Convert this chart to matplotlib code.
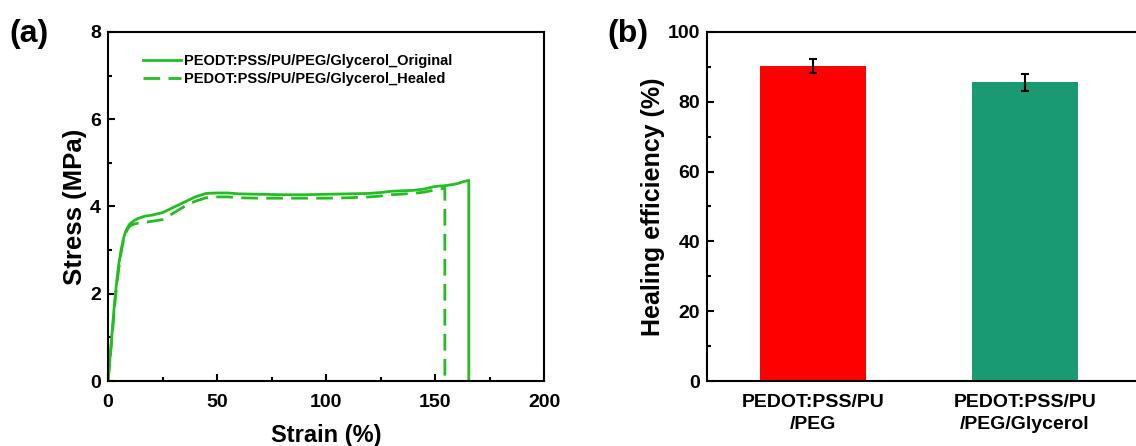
import matplotlib.pyplot as plt
import numpy as np

plt.rcParams['font.family'] = ['Liberation Sans', 'DejaVu Sans']
plt.rcParams['font.weight'] = 'bold'

# stress-strain curves
strain_orig = [0, 1, 2, 3, 4, 5, 6, 7, 8, 9, 10, 12, 14, 17, 20, 25, 30, 35, 40, 45, 50, 55, 60, 70, 80, 90, 100, 110, 120, 125, 130, 140, 145, 150, 155, 160, 163, 165.5, 165.5]
stress_orig = [0, 0.6, 1.2, 1.8, 2.3, 2.7, 3.0, 3.25, 3.42, 3.52, 3.6, 3.68, 3.73, 3.78, 3.8, 3.86, 3.98, 4.1, 4.22, 4.3, 4.31, 4.31, 4.29, 4.28, 4.27, 4.27, 4.28, 4.29, 4.3, 4.32, 4.35, 4.37, 4.4, 4.46, 4.48, 4.52, 4.57, 4.6, 0]
strain_heal = [0, 1, 2, 3, 4, 5, 6, 7, 8, 9, 10, 12, 14, 17, 20, 25, 30, 35, 40, 45, 50, 55, 60, 70, 80, 90, 100, 110, 120, 125, 130, 140, 145, 150, 154.5, 154.5]
stress_heal = [0, 0.55, 1.1, 1.7, 2.2, 2.6, 2.95, 3.2, 3.38, 3.48, 3.55, 3.6, 3.62, 3.64, 3.66, 3.7, 3.85, 4.0, 4.12, 4.2, 4.22, 4.22, 4.2, 4.19, 4.19, 4.19, 4.19, 4.2, 4.22, 4.24, 4.27, 4.3, 4.33, 4.38, 4.42, 0]

# healing efficiency
samples = ['PEDOT:PSS/PU\n/PEG', 'PEDOT:PSS/PU\n/PEG/Glycerol']
efficiency = [90.3, 85.6]
eff_err = [2.0, 2.5]
bar_colors = ['#FF0000', '#1A9A72']

green = '#22BE22'

fig = plt.figure(figsize=(11.36, 4.46), dpi=100)

########### STRESS-STRAIN
ax1 = fig.add_axes([0.0951, 0.1457, 0.3838, 0.7826])
ax1.plot(strain_orig, stress_orig, '-', color=green, lw=2, label='PEODT:PSS/PU/PEG/Glycerol_Original')
ax1.plot(strain_heal, stress_heal, '--', color=green, lw=2, dashes=(6, 3), label='PEDOT:PSS/PU/PEG/Glycerol_Healed')
ax1.set_xlim(0, 200)
ax1.set_ylim(0, 8)
ax1.set_xticks([0, 50, 100, 150, 200])
ax1.set_xticks(np.arange(25, 200, 50), minor=True)
ax1.set_yticks([0, 2, 4, 6, 8])
ax1.set_yticks([1, 3, 5, 7], minor=True)
ax1.set_xlabel('Strain (%)', fontsize=17, fontweight='bold', labelpad=10)
ax1.set_ylabel('Stress (MPa)', fontsize=18.5, fontweight='bold', labelpad=2)
leg = ax1.legend(loc='upper left', frameon=False, fontsize=10.5, handlelength=2.6,
                 handletextpad=0.2, borderaxespad=0.5, labelspacing=0.3,
                 bbox_to_anchor=(0.05, 0.975))
for t in leg.get_texts():
    t.set_fontweight('bold')
fig.text(0.008, 0.905, '(a)', fontsize=23, fontweight='bold')

########### HEALING EFFICIENCY
ax2 = fig.add_axes([0.6224, 0.1457, 0.3826, 0.7826])
xpos = np.arange(1, len(samples) + 1)
ax2.bar(xpos, efficiency, width=0.5, color=bar_colors, yerr=eff_err,
        error_kw=dict(ecolor='black', elinewidth=1.5, capsize=3, capthick=1.5))
ax2.set_xlim(0.5, 2.55)
ax2.set_ylim(0, 100)
ax2.set_xticks(xpos)
ax2.set_xticklabels(samples, fontsize=15, fontweight='bold', linespacing=1.4)
ax2.set_yticks([0, 20, 40, 60, 80, 100])
ax2.set_yticks([10, 30, 50, 70, 90], minor=True)
ax2.set_ylabel('Healing efficiency (%)', fontsize=18, fontweight='bold', labelpad=2)
fig.text(0.535, 0.905, '(b)', fontsize=23, fontweight='bold')

for ax in (ax1, ax2):
    for s in ax.spines.values():
        s.set_linewidth(1.5)
    ax.tick_params(which='both', direction='in', width=1.5)
    ax.tick_params(which='major', length=5, labelsize=14)
    ax.tick_params(which='minor', length=3)
    ax.tick_params(axis='y', which='major', pad=5)
    ax.tick_params(axis='x', which='major', pad=9)
    for lab in ax.get_yticklabels() + ax.get_xticklabels():
        lab.set_fontweight('bold')
ax2.tick_params(axis='x', which='both', length=0, pad=9)

plt.savefig('out.png', dpi=100)
